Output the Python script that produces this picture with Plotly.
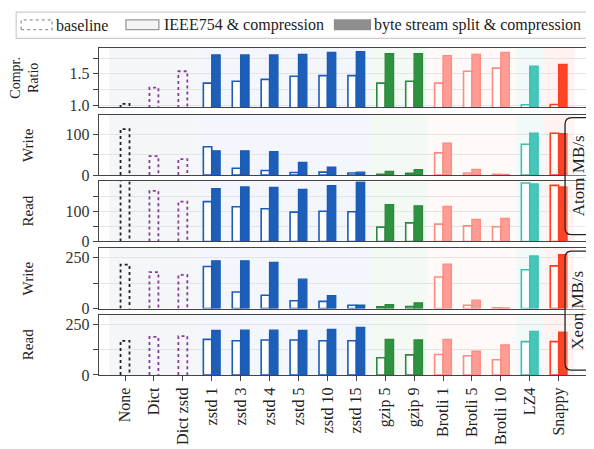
import plotly.graph_objects as go

# ---------------- data ----------------
categories = ["None", "Dict", "Dict zstd", "zstd 1", "zstd 3", "zstd 4", "zstd 5",
              "zstd 10", "zstd 15", "gzip 5", "gzip 9", "Brotli 1", "Brotli 5",
              "Brotli 10", "LZ4", "Snappy"]
baseline_cats = ["None", "Dict", "Dict zstd"]
codec_cats = categories[3:]
codec_family = ["zstd"] * 6 + ["gzip"] * 2 + ["brotli"] * 3 + ["lz4", "snappy"]

ratio_baseline = [1.02, 1.28, 1.54]
ratio_ieee = [1.35, 1.38, 1.41, 1.46, 1.47, 1.47, 1.35, 1.38, 1.35, 1.54, 1.59, 1.005, 1.01]
ratio_bss = [1.80, 1.80, 1.80, 1.81, 1.84, 1.85, 1.82, 1.82, 1.79, 1.81, 1.84, 1.62, 1.65]

atom_write_baseline = [112, 46, 39]
atom_write_ieee = [69, 16.5, 11, 6, 7, 5, 2, 4, 54, 5, 1.5, 75, 102]
atom_write_bss = [59, 59, 57, 31, 19, 7, 9, 13, 78, 14, 1.5, 102, 101]

atom_read_baseline = [215, 169, 133]
atom_read_ieee = [133, 116, 109, 98, 101, 99, 48, 62, 58, 52, 49, 195, 187]
atom_read_bss = [176, 182, 180, 174, 186, 198, 123, 119, 117, 74, 77, 192, 182]

xeon_write_baseline = [215, 179, 165]
xeon_write_ieee = [206, 81, 65, 38, 35, 16, 8, 9.5, 155, 16, 3, 190, 209]
xeon_write_bss = [234, 234, 226, 144, 63, 16, 19, 28, 218, 41, 3, 258, 264]

xeon_read_baseline = [170, 189, 193]
xeon_read_ieee = [177, 170, 174, 174, 170, 170, 86, 100, 102, 96, 76, 166, 166]
xeon_read_bss = [221, 223, 223, 221, 226, 236, 177, 174, 177, 118, 150, 217, 213]

panel_titles = ["Compr.<br>Ratio", "Write", "Read", "Write", "Read"]
y_ranges = [[0.97, 1.91], [0, 147], [0, 201], [0, 297], [0, 298]]
y_tickvals = [[1.0, 1.25, 1.5, 1.75], [0, 50, 100], [0, 50, 100, 150], [0, 125, 250], [0, 125, 250]]
y_ticktext = [["1.0", "", "1.5", ""], ["0", "", "100"], ["0", "", "100", ""], ["0", "", "250"], ["0", "", "250"]]

legend_labels = ["baseline", "IEEE754 & compression", "byte stream split & compression"]
machine_labels = ["Atom MB/s", "Xeon MB/s"]

# ---------------- styling ----------------
FONT = "Liberation Serif"
W, H = 594, 449
L, R, T, B = 91, 582, 40, 378

family_color = {"zstd": "#1a5cb5", "gzip": "#2a8a3a", "brotli": "#ff8a80",
                "lz4": "#3cbfb0", "snappy": "#ff3b1e"}
family_fill = {"zstd": "#1d5fb8", "gzip": "#2e9240", "brotli": "#ff9d94",
               "lz4": "#45c6b8", "snappy": "#ff4326"}
baseline_colors = ["#222222", "#8a3c9e", "#8a3c9e"]
shade_groups = [(-0.55, 2.5, "#f5f6f8"), (2.5, 8.5, "#f3f6fc"), (8.5, 10.5, "#f3faf3"),
                (10.5, 13.5, "#fff9f8"), (13.5, 14.5, "#f1faf9"), (14.5, 15.55, "#fff2f0")]

def px_x(p):
    return (p - L) / (R - L)

def px_y(p):
    return (B - p) / (B - T)

panel_px = [(40, 101), (109, 171.3), (177.7, 240), (246.7, 309.3), (316, 378.3)]
domains = [[px_y(b), px_y(t)] for t, b in panel_px]
domains[-1][0] = 0.0
domains[0][1] = 1.0

panels = [
    (ratio_baseline, ratio_ieee, ratio_bss),
    (atom_write_baseline, atom_write_ieee, atom_write_bss),
    (atom_read_baseline, atom_read_ieee, atom_read_bss),
    (xeon_write_baseline, xeon_write_ieee, xeon_write_bss),
    (xeon_read_baseline, xeon_read_ieee, xeon_read_bss),
]

fig = go.Figure()
xidx = {c: i for i, c in enumerate(categories)}
bw = 0.29
base_w = 0.31

shapes = []
annotations = []
for k, (base_vals, ieee_vals, bss_vals) in enumerate(panels):
    n = k + 1
    xa = "x" if n == 1 else f"x{n}"
    ya = "y" if n == 1 else f"y{n}"
    for c, v, col in zip(baseline_cats, base_vals, baseline_colors):
        i = xidx[c]
        fig.add_trace(go.Scatter(
            x=[i - base_w / 2, i - base_w / 2, i + base_w / 2, i + base_w / 2],
            y=[0, v, v, 0], mode="lines",
            line=dict(color=col, width=1.8, dash="dot"),
            xaxis=xa, yaxis=ya, showlegend=False, hoverinfo="skip"))
    xs = [xidx[c] for c in codec_cats]
    fig.add_trace(go.Bar(
        x=xs, y=ieee_vals, width=bw, offset=-bw,
        marker=dict(color="rgba(255,255,255,0.85)",
                    line=dict(color=[family_color[f] for f in codec_family], width=1.6)),
        xaxis=xa, yaxis=ya, showlegend=False))
    fig.add_trace(go.Bar(
        x=xs, y=bss_vals, width=bw, offset=0,
        marker=dict(color=[family_fill[f] for f in codec_family],
                    line=dict(color=[family_color[f] for f in codec_family], width=1.3)),
        xaxis=xa, yaxis=ya, showlegend=False))
    for x0, x1, col in shade_groups:
        shapes.append(dict(type="rect", xref=xa, yref=f"{ya} domain", x0=x0, x1=x1,
                           y0=0, y1=1, fillcolor=col, line=dict(width=0), layer="below"))
    dom = domains[k]
    annotations.append(dict(text=panel_titles[k], xref="paper", yref="paper",
                            x=px_x(16 if k == 0 else 20), y=(dom[0] + dom[1]) / 2,
                            xanchor="center", yanchor="middle",
                            textangle=-90, showarrow=False,
                            font=dict(family=FONT, size=14 if k == 0 else 15, color="#222")))

    axis_common = dict(showline=True, mirror=True, linecolor="#444", linewidth=1.4)
    fig.layout[f"xaxis{'' if n == 1 else n}"] = dict(
        domain=[0, 1], range=[-0.9, 16.05], anchor=ya,
        tickvals=list(range(len(categories))),
        ticktext=categories if n == 5 else [""] * len(categories),
        showticklabels=(n == 5), ticks="outside" if n == 5 else "",
        ticklen=5, tickcolor="#444", tickangle=-90, showgrid=False, zeroline=False,
        tickfont=dict(family=FONT, size=16, color="#222"),
        matches=None if n == 1 else "x", **axis_common)
    fig.layout[f"yaxis{'' if n == 1 else n}"] = dict(
        domain=dom, range=y_ranges[k], anchor=xa,
        tickvals=y_tickvals[k], ticktext=y_ticktext[k],
        ticks="outside", ticklen=5, tickcolor="#444",
        showgrid=True, gridcolor="#e4e4e4", gridwidth=1, zeroline=False,
        tickfont=dict(family=FONT, size=16, color="#333"), **axis_common)

# legend (drawn)
shapes.append(dict(type="rect", xref="paper", yref="paper", x0=px_x(8), x1=px_x(590),
                   y0=px_y(30), y1=px_y(3), line=dict(color="#cccccc", width=1.2),
                   fillcolor="white", layer="above"))
shapes.append(dict(type="rect", xref="paper", yref="paper", x0=px_x(13), x1=px_x(44),
                   y0=px_y(21), y1=px_y(11), line=dict(color="#999999", width=1.3, dash="dot"),
                   fillcolor="rgba(0,0,0,0)"))
shapes.append(dict(type="rect", xref="paper", yref="paper", x0=px_x(118), x1=px_x(151),
                   y0=px_y(21), y1=px_y(11), line=dict(color="#999999", width=1.3),
                   fillcolor="#f4f4f4"))
shapes.append(dict(type="rect", xref="paper", yref="paper", x0=px_x(327), x1=px_x(363),
                   y0=px_y(21), y1=px_y(11), line=dict(color="#8e8e8e", width=1.3),
                   fillcolor="#8e8e8e"))
for txt, xp in zip(legend_labels, [46, 154, 365]):
    annotations.append(dict(text=txt, xref="paper", yref="paper", x=px_x(xp), y=px_y(16.5),
                            xanchor="left", yanchor="middle", showarrow=False,
                            font=dict(family=FONT, size=16, color="#222")))

# machine boxes (rounded)
def rounded(x0, y0, x1, y1, r):
    X0, X1 = px_x(x0), px_x(x1)
    rx = r / (R - L)
    ry = r / (B - T)
    Yb, Yt = px_y(y1), px_y(y0)
    return (f"M{X0+rx},{Yb} L{X1-rx},{Yb} Q{X1},{Yb} {X1},{Yb+ry} L{X1},{Yt-ry} "
            f"Q{X1},{Yt} {X1-rx},{Yt} L{X0+rx},{Yt} Q{X0},{Yt} {X0},{Yt-ry} "
            f"L{X0},{Yb+ry} Q{X0},{Yb} {X0+rx},{Yb} Z")

for lab, (y0, y1) in zip(machine_labels, [(112, 233), (250, 373)]):
    shapes.append(dict(type="path", xref="paper", yref="paper", path=rounded(558, y0, 606, y1, 7),
                       line=dict(color="#222", width=1.3), fillcolor="rgba(255,255,255,0.3)",
                       layer="above"))
    annotations.append(dict(text=lab, xref="paper", yref="paper", x=px_x(571),
                            y=px_y((y0 + y1) / 2), xanchor="center", yanchor="middle",
                            textangle=-90, showarrow=False,
                            font=dict(family=FONT, size=17, color="#222")))

fig.update_layout(
    width=W, height=H, margin=dict(l=L, r=W - R, t=T, b=H - B),
    paper_bgcolor="white", plot_bgcolor="white", barmode="overlay",
    showlegend=False, shapes=shapes, annotations=annotations,
    font=dict(family=FONT, color="#222"),
)

fig.write_html("out.html")
